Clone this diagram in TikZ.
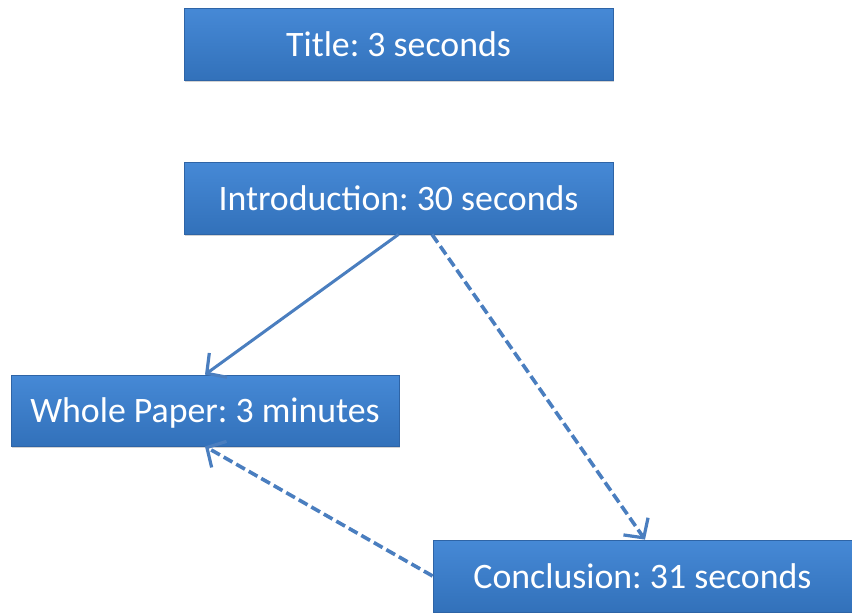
\documentclass[tikz,border=0pt]{standalone}
\usepackage{fontspec}
\setmainfont{Carlito}
\usepackage{xcolor}
\usepackage{tikz}
\usetikzlibrary{calc, arrows.meta, positioning, shadows}

\definecolor{boxblue}{HTML}{3B7BC6}
\definecolor{boxtop}{HTML}{4689D6}
\definecolor{boxbot}{HTML}{3271BA}
\definecolor{boxline}{HTML}{2E64A6}
\definecolor{arrowblue}{HTML}{4A7EBF}

\begin{document}
\frenchspacing
\begin{tikzpicture}[x=0.5pt, y=-0.5pt, >=latex, font=\fontsize{17.9}{20}\selectfont]
		\tikzstyle{part} = [rectangle, draw=boxline, line width=0.4pt, top color=boxtop, bottom color=boxbot, text=white, inner sep=0pt, text depth=0pt, drop shadow={shadow xshift=0.6pt, shadow yshift=-1.2pt, opacity=0.35}]
		\tikzstyle{link} = [line width=1.5pt, draw=arrowblue, -{Straight Barb[length=7pt, width=15pt, line width=1.6pt]}]
		\tikzstyle{dlink} = [link, line width=1.8pt, dash pattern=on 5pt off 2.2pt]

		\useasboundingbox (0,0) rectangle (852,612);

		\node[part, minimum width=214.5pt, minimum height=36pt]	at (398.5, 44)	(title)	{Title: 3 seconds};
		\node[part, minimum width=214.5pt, minimum height=36pt]	at (398.5, 198)	(intro)	{Introduction: 30 seconds};
		\node[part, minimum width=194pt, minimum height=35.5pt]	at (205, 410.5)	(whole)	{Whole Paper: 3 minutes};
		\node[part, minimum width=209.5pt, minimum height=36pt]	at (642.5, 576)	(concl)	{Conclusion: 31 seconds};

		\draw [link] (intro.south) -- (whole.north);
		\draw [dlink] ([xshift=16.75pt]intro.south) -- ([xshift=1.25pt]concl.north);
		\draw [dlink] (concl.west) -- (whole.south);
	\end{tikzpicture}
\end{document}
